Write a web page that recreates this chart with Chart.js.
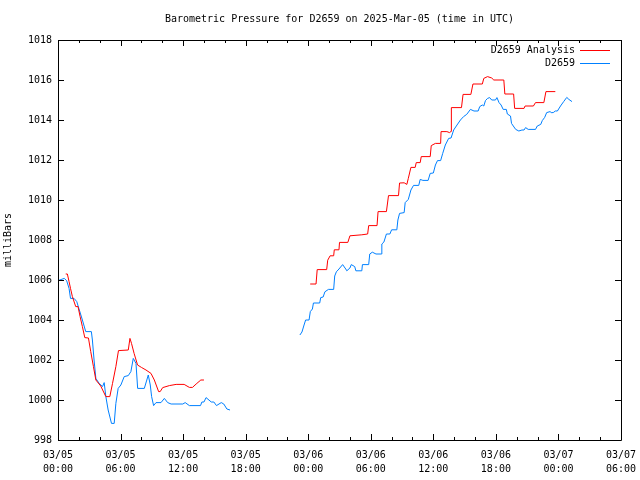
<!DOCTYPE html>
<html>
<head>
<meta charset="utf-8">
<script src="https://cdn.jsdelivr.net/npm/chart.js@4"></script>
<style>
html,body{margin:0;padding:0;background:#fff;}
#wrap{width:640px;height:480px;}
</style>
</head>
<body>
<div id="wrap"><canvas id="c" width="640" height="480"></canvas></div>
<script>
// Hours since 2025-03-05 00:00 UTC
const xTickLabels = [
  ['03/05','00:00'],['03/05','06:00'],['03/05','12:00'],['03/05','18:00'],
  ['03/06','00:00'],['03/06','06:00'],['03/06','12:00'],['03/06','18:00'],
  ['03/07','00:00'],['03/07','06:00']
];
const seriesNames = ['D2659 Analysis', 'D2659'];
const chartTitle = 'Barometric Pressure for D2659 on 2025-Mar-05 (time in UTC)';

const analysisHours = [0.74,0.9,1.06,1.2,1.38,1.7,1.92,2.12,2.34,2.57,2.92,3.14,3.4,3.63,4.1,4.59,4.97,5.23,5.55,5.8,6.74,6.9,7.05,7.3,7.63,8.0,8.44,8.92,9.24,9.65,9.8,10.04,10.68,11.33,12.1,12.6,12.9,13.25,13.7,14.0,
  20,
  24.19,24.75,24.86,25.77,25.87,26.1,26.44,26.5,26.95,27.0,27.8,28.0,29.14,29.7,29.8,30.6,30.7,31.5,31.7,32.66,32.76,33.2,33.46,33.6,33.85,34.26,34.36,34.74,34.84,35.7,35.8,36.2,36.7,36.74,37.3,37.56,37.7,37.73,38.7,38.85,39.6,39.8,40.7,40.84,41.2,41.6,41.8,42.76,42.86,43.7,43.8,44.7,44.8,45.6,45.8,46.6,46.8,47.7];
const analysisValues = [1006.3,1006.3,1005.92,1005.58,1005.17,1004.67,1004.67,1004.17,1003.67,1003.12,1003.1,1002.42,1001.67,1001.0,1000.7,1000.17,1000.17,1000.83,1001.67,1002.47,1002.5,1003.08,1002.83,1002.33,1001.75,1001.63,1001.5,1001.33,1001.0,1000.42,1000.42,1000.62,1000.72,1000.78,1000.78,1000.63,1000.63,1000.8,1001.0,1001.0,
  null,
  1005.8,1005.8,1006.52,1006.52,1006.99,1007.21,1007.21,1007.51,1007.51,1007.88,1007.88,1008.21,1008.26,1008.3,1008.72,1008.72,1009.42,1009.42,1010.22,1010.22,1010.85,1010.86,1010.78,1011.08,1011.63,1011.63,1011.87,1011.87,1012.17,1012.17,1012.72,1012.83,1012.83,1013.42,1013.42,1013.37,1013.43,1014.62,1014.62,1015.28,1015.28,1015.8,1015.8,1016.08,1016.17,1016.1,1016.0,1016.0,1015.3,1015.3,1014.58,1014.58,1014.7,1014.7,1014.87,1014.87,1015.42,1015.42];

const stationHours = [0,0.6,0.83,1.06,1.2,1.54,1.8,2.0,2.34,2.66,3.2,3.3,3.46,3.63,3.95,4.27,4.43,4.59,4.81,5.13,5.39,5.55,5.77,6.03,6.35,6.74,6.99,7.22,7.48,7.64,8.28,8.66,8.85,8.98,9.17,9.4,9.88,10.2,10.52,10.85,11.97,12.2,12.6,13.67,13.8,14.0,14.2,14.7,14.95,15.2,15.66,15.9,16.2,16.5,
  20,
  23.2,23.4,23.6,23.75,24.08,24.2,24.4,24.5,25.1,25.2,25.43,25.6,25.94,26.44,26.54,26.7,26.95,27.3,27.6,27.7,28.0,28.13,28.46,28.57,29.14,29.2,29.8,29.9,30.15,30.5,31.0,31.06,31.26,31.5,31.83,32.0,32.5,32.6,32.76,33.2,33.3,33.6,33.85,34.1,34.6,34.74,35.0,35.5,35.7,36.0,36.2,36.4,36.7,36.9,37.15,37.47,37.7,37.95,38.27,38.6,38.9,39.2,39.56,39.9,40.3,40.45,40.7,40.84,41.0,41.2,41.4,41.6,41.96,42.1,42.3,42.5,42.7,43.0,43.1,43.4,43.5,43.67,43.9,44.2,44.5,44.7,44.85,45.1,45.8,45.97,46.3,46.45,46.68,46.87,47.2,47.3,47.5,47.7,47.9,48.2,48.5,48.8,49.0,49.3];
const stationValues = [1005.97,1006.08,1005.97,1005.58,1005.08,1005.08,1004.92,1004.58,1004.0,1003.42,1003.42,1003.0,1002.0,1001.08,1000.83,1000.67,1000.87,1000.17,999.5,998.83,998.83,999.83,1000.58,1000.75,1001.17,1001.22,1001.42,1002.08,1001.83,1000.58,1000.58,1001.25,1000.75,1000.17,999.72,999.87,999.87,1000.08,999.87,999.8,999.8,999.87,999.72,999.72,999.9,999.9,1000.12,999.9,999.9,999.72,999.87,999.8,999.55,999.5,
  null,
  1003.25,1003.4,1003.75,1004.0,1004.0,1004.42,1004.55,1004.85,1004.85,1005.12,1005.15,1005.41,1005.53,1005.53,1006.2,1006.41,1006.55,1006.77,1006.55,1006.46,1006.6,1006.77,1006.67,1006.46,1006.46,1006.77,1006.77,1007.3,1007.39,1007.3,1007.3,1007.8,1007.9,1008.3,1008.3,1008.51,1008.51,1009.0,1009.33,1009.37,1009.87,1010.03,1010.5,1010.73,1010.73,1011.03,1010.98,1010.98,1011.33,1011.35,1011.75,1011.97,1011.97,1012.33,1012.75,1013.08,1013.1,1013.5,1013.75,1014.0,1014.17,1014.28,1014.53,1014.45,1014.45,1014.67,1014.75,1014.7,1014.97,1015.08,1015.12,1015.0,1015.0,1015.12,1014.87,1014.75,1014.53,1014.53,1014.3,1014.2,1013.83,1013.7,1013.53,1013.45,1013.5,1013.5,1013.62,1013.53,1013.53,1013.7,1013.78,1013.97,1014.13,1014.37,1014.42,1014.37,1014.37,1014.45,1014.45,1014.7,1014.92,1015.13,1015.03,1014.92];

const FONT = 'DejaVu Sans Mono';
const RED = '#ff0000';
const BLUE = '#0080ff';

function toPoints(hs, vs){ return hs.map((h,i)=>({x:h, y:vs[i]})); }

const framePlugin = {
  id: 'frame',
  beforeDraw(chart){
    const c = chart.ctx;
    c.save(); c.fillStyle = '#fff'; c.fillRect(0,0,chart.width,chart.height); c.restore();
  },
  afterDraw(chart){
    const c = chart.ctx, a = chart.chartArea;
    const xs = chart.scales.x, ys = chart.scales.y;
    c.save();
    // title
    c.font = '10px "' + FONT + '"';
    c.fillStyle = '#000'; c.textAlign = 'center'; c.textBaseline = 'middle';
    c.fillText(chartTitle, (a.left + a.right)/2, 19);
    c.strokeStyle = '#000'; c.lineWidth = 1;
    c.beginPath();
    c.rect(Math.round(a.left)+0.5, Math.round(a.top)+0.5, Math.round(a.right-a.left), Math.round(a.bottom-a.top));
    c.stroke();
    c.beginPath();
    for (let h = 0; h <= 54; h += 2){
      const px = Math.round(xs.getPixelForValue(h))+0.5;
      const len = (h % 6 === 0) ? 6 : 3;
      c.moveTo(px, a.bottom); c.lineTo(px, a.bottom - len);
      c.moveTo(px, a.top); c.lineTo(px, a.top + len);
    }
    for (let v = 998; v <= 1018; v += 2){
      const py = Math.round(ys.getPixelForValue(v))+0.5;
      c.moveTo(a.left, py); c.lineTo(a.left + 6, py);
      c.moveTo(a.right, py); c.lineTo(a.right - 6, py);
    }
    c.stroke();
    // legend
    c.textAlign = 'right'; c.textBaseline = 'middle'; c.fillStyle = '#000';
    const cols = [RED, BLUE];
    seriesNames.forEach((n,i)=>{
      const y = a.top + 10 + i*13;
      c.fillText(n, a.right - 46, y);
      c.strokeStyle = cols[i];
      c.beginPath(); c.moveTo(a.right - 41, Math.round(y)+0.5); c.lineTo(a.right - 11, Math.round(y)+0.5); c.stroke();
    });
    c.restore();
  }
};

new Chart(document.getElementById('c'), {
  type: 'line',
  data: {
    datasets: [
      { label: seriesNames[0], data: toPoints(analysisHours, analysisValues), borderColor: RED, borderWidth: 1, pointRadius: 0, spanGaps: false, fill: false, tension: 0 },
      { label: seriesNames[1], data: toPoints(stationHours, stationValues), borderColor: BLUE, borderWidth: 1, pointRadius: 0, spanGaps: false, fill: false, tension: 0 }
    ]
  },
  options: {
    responsive: false,
    animation: false,
    devicePixelRatio: 1,
    layout: { padding: { left: 0, right: 19, top: 40, bottom: 0 } },
    plugins: {
      legend: { display: false },
      tooltip: { enabled: false },
      title: { display: false }
    },
    scales: {
      x: {
        type: 'linear', min: 0, max: 54,
        grid: { display: false, drawTicks: false },
        border: { display: false },
        afterBuildTicks(scale){ scale.ticks = xTickLabels.map((_,i)=>({value: i*6})); },
        afterFit(scale){ scale.height = 40; scale.paddingLeft = 0; scale.paddingRight = 0; },
        ticks: { color: '#000', font: { family: FONT, size: 10, lineHeight: 1.4 }, padding: 8, maxRotation: 0, autoSkip: false,
                 callback: (v) => xTickLabels[Math.round(v/6)] }
      },
      y: {
        min: 998, max: 1018,
        grid: { display: false, drawTicks: false },
        border: { display: false },
        afterFit(scale){ scale.width = 58; scale.paddingTop = 0; scale.paddingBottom = 0; },
        ticks: { stepSize: 2, color: '#000', font: { family: FONT, size: 10 }, padding: 6, callback: (v) => String(v) },
        title: { display: true, text: 'milliBars', color: '#000', font: { family: FONT, size: 10 }, padding: { top: 2, bottom: 0 } }
      }
    }
  },
  plugins: [framePlugin]
});
</script>
</body>
</html>
